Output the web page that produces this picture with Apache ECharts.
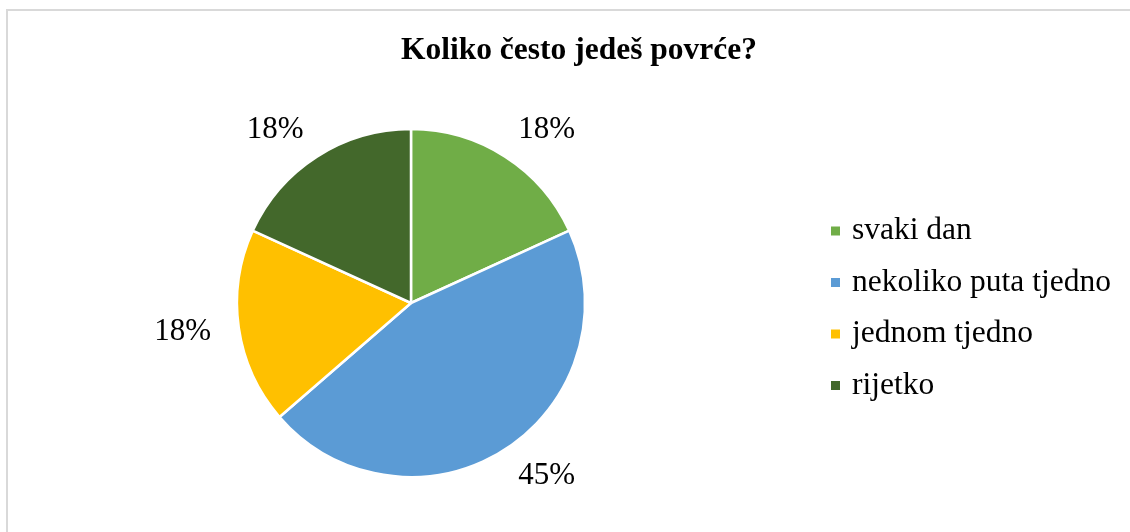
<!DOCTYPE html>
<html><head><meta charset="utf-8">
<script src="https://cdn.jsdelivr.net/npm/echarts@6/dist/echarts.min.js"></script>
<style>html,body{margin:0;padding:0;background:#fff}#c{width:1130px;height:532px}</style>
</head><body><div id="c"></div>
<script>
const title = 'Koliko često jedeš povrće?';
const categories = ['svaki dan', 'nekoliko puta tjedno', 'jednom tjedno', 'rijetko'];
const values = [2, 5, 2, 2];
const colors = ['#70AD47', '#5B9BD5', '#FFC000', '#43682B'];
const FONT = "'Liberation Serif','Times New Roman',serif";

const chart = echarts.init(document.getElementById('c'), null, {renderer: 'canvas'});
chart.setOption({
  animation: false,
  color: colors,
  graphic: [{type: 'rect', shape: {x: 7, y: 10, width: 1200, height: 600}, style: {fill: 'none', stroke: '#d9d9d9', lineWidth: 2}, silent: true}],
  title: {text: title, left: 574, textAlign: 'center', top: 30,
    textStyle: {fontFamily: FONT, fontSize: 31.5, fontWeight: 'bold', color: '#000'}},
  legend: {orient: 'vertical', left: 824, top: 210, itemWidth: 11, itemHeight: 11, itemGap: 19.5, icon: 'rect',
    textStyle: {fontFamily: FONT, fontSize: 31.5, color: '#000', lineHeight: 32, padding: [0, 0, 0, 6]},
    data: categories},
  series: [{type: 'pie', center: [411, 303], radius: 174, startAngle: 90, clockwise: true,
    avoidLabelOverlap: false,
    itemStyle: {borderColor: '#fff', borderWidth: 2.5},
    label: {show: true, position: 'outside', fontFamily: FONT, fontSize: 31, color: '#000',
      distanceToLabelLine: -4,
      formatter: p => Math.round(p.percent) + '%'},
    labelLine: {show: false, length: 32, length2: 0},
    data: categories.map((c, i) => ({name: c, value: values[i]}))
  }]
});
</script></body></html>
